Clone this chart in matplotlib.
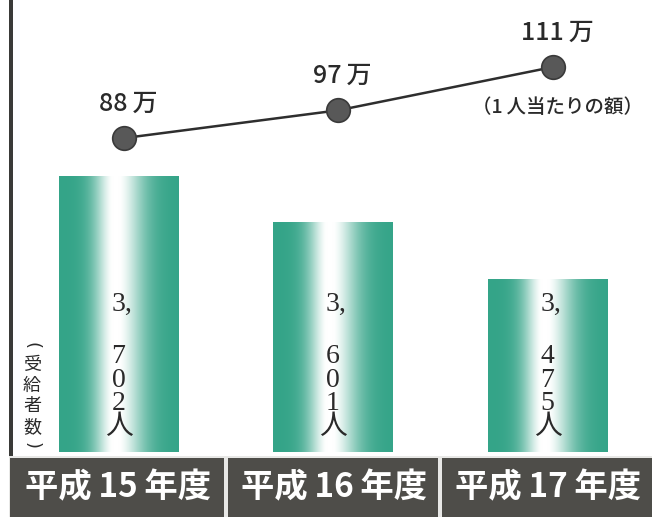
import numpy as np
import matplotlib
matplotlib.use('Agg')
import matplotlib.pyplot as plt
from matplotlib.patches import Rectangle

plt.rcParams['font.family'] = ['Noto Sans CJK JP', 'DejaVu Sans']

# ---- data ----
categories = ['平成\u200915\u2009年度', '平成\u200916\u2009年度', '平成\u200917\u2009年度']
recipients = [3702, 3601, 3475]          # 受給者数 (人)
amount_man = [88, 97, 111]               # 1人当たりの額 (万)
amount_labels = ['88\u2009万', '97\u2009万', '111\u2009万']
amount_note = '（1\u2009人当たりの額）'
recipients_note = ['(', '受', '給', '者', '数', ')']

W, H = 652, 517
fig = plt.figure(figsize=(W / 100, H / 100), dpi=100)
fig.patch.set_facecolor('white')

def fx(px):
    return px / W

def fy(py):
    return 1 - py / H

# background axes in pixel coords
bg = fig.add_axes([0, 0, 1, 1])
bg.set_xlim(0, W)
bg.set_ylim(H, 0)
bg.axis('off')
bg.add_patch(Rectangle((9, 0), 4, 458, facecolor='#3a3a38', edgecolor='none'))
bg.add_patch(Rectangle((9, 456), W - 9, H - 456, facecolor='#e8e8e6', edgecolor='none'))
box_spans = [(10, 224), (228, 438), (442, 652)]
for (a, b) in box_spans:
    bg.add_patch(Rectangle((a, 458), b - a, H - 458, facecolor='#4e4d49', edgecolor='none'))

# ---- bar axes ----
ax_left, ax_right, ax_top, ax_bot = 12, 652, 0, 452
rect = [fx(ax_left), fy(ax_bot), (ax_right - ax_left) / W, (ax_bot - ax_top) / H]
ax = fig.add_axes(rect)
ax.patch.set_alpha(0)
x = np.arange(len(categories))
xl = ((ax_left - 118.5) / 214.5, (ax_right - 118.5) / 214.5)
yl = (3094, 4090)
bw = 0.555
bars = ax.bar(x, recipients, width=bw, color='none', edgecolor='none')

# gradient for bars
t = np.linspace(0, 1, 400)
c0 = 0.47
w = np.where(t < c0, np.exp(-((t - c0) / 0.2) ** 2), np.exp(-((t - c0) / 0.27) ** 2))
w = np.clip(w * 1.02, 0, 1) ** 1.3
teal = np.array([52, 164, 136]) / 255
white = np.array([1.0, 1.0, 1.0])
grad = teal[None, :] * (1 - w[:, None]) + white[None, :] * w[:, None]
grad = grad[None, :, :]
for b, v in zip(bars, recipients):
    bx = b.get_x()
    im = ax.imshow(grad, extent=[bx, bx + bw, yl[0], v], aspect='auto',
                   interpolation='bicubic', zorder=2)
    im.set_clip_path(b)

ax.set_xlim(*xl)
ax.set_ylim(*yl)
ax.axis('off')

def py2y(py):
    return yl[0] + (ax_bot - py) / (ax_bot - ax_top) * (yl[1] - yl[0])

# vertical value text inside bars: "3," on top, then the other digits and 人
serif = ['Liberation Serif', 'Noto Sans CJK JP']
for xi, v in zip(x, recipients):
    s = f"{v:,}"
    head, tail = s.split(',')
    ax.text(xi - 0.033, py2y(304), head + ',', ha='left', va='center', fontsize=20,
            family=serif, color='#2a2a2a', zorder=4)
    ax.text(xi, py2y(392), '\n'.join(list(tail) + ['人']), ha='center', va='center',
            multialignment='center', linespacing=0.92, fontsize=20,
            family=serif, color='#2a2a2a', zorder=4)

# ---- line axes ----
ax2 = fig.add_axes(rect)
ax2.patch.set_alpha(0)
ax2.set_xlim(*xl)
ax2.set_ylim(-13.6, 132.7)
ax2.axis('off')
xo = x + 0.025
ax2.plot(xo, amount_man, color='#2e2e2e', lw=1.8, zorder=3,
         marker='o', markersize=17, markerfacecolor='#585858',
         markeredgecolor='#3a3a3a', markeredgewidth=1.2)
for xi, v, lab in zip(xo, amount_man, amount_labels):
    ax2.annotate(lab, (xi, v), xytext=(3, 25), textcoords='offset points',
                 ha='center', va='center', fontsize=18, fontweight='medium',
                 color='#2a2a2a')
ax2.annotate(amount_note, (xo[-1], amount_man[-1]), xytext=(3, -29),
             textcoords='offset points', ha='center', va='center',
             fontsize=14, fontweight='medium', color='#2a2a2a')

# 受給者数 note (vertical)
for ch, py in zip(recipients_note, [346, 365, 386, 406, 427, 445]):
    if ch in '()':
        bg.text(32, py, ch, ha='center', va='center', fontsize=13, color='#2a2a2a',
                rotation=-90, family=['DejaVu Sans'])
    else:
        bg.text(32, py, ch, ha='center', va='center', fontsize=13, color='#2a2a2a')

# category labels
for (a, b), lab in zip(box_spans, categories):
    bg.text((a + b) / 2 + 1, 488, lab, ha='center', va='center', fontsize=24,
            fontweight='bold', color='white')

fig.savefig('out.png', dpi=100, facecolor='white')
